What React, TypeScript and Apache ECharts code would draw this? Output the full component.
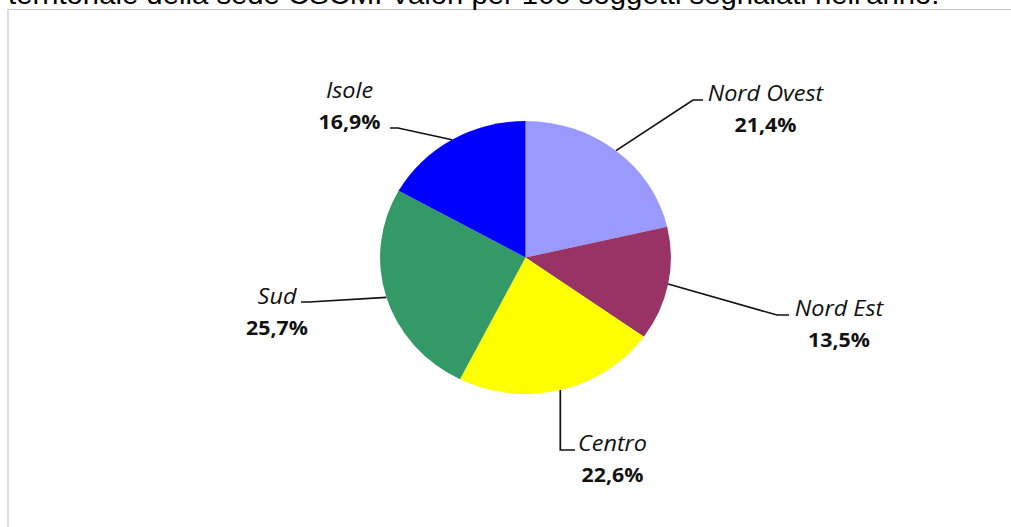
import React, { useEffect, useRef } from "react";
import * as echarts from "echarts";

// ---- data ----
const categories = ["Nord Ovest", "Nord Est", "Centro", "Sud", "Isole"];
const values = [21.4, 13.5, 22.6, 25.7, 16.9];
const colors = ["#9999FF", "#993366", "#FFFF00", "#339966", "#0000FF"];
const titleText = "territoriale della sede CSCMI Valori per 100 soggetti segnalati nell'anno.";

// ---- layout (not data) ----
const STRETCH = 1011 / 949; // the reference is horizontally stretched
const W = 949;
const H = 527;
const sx = (x: number) => x / STRETCH;
// label centre x, top y, and leader line elbow/end (reference coordinates)
const labelLayouts = [
  { cx: 765.5, top: 77.5, elbow: [693, 100], end: [703, 100] },
  { cx: 839, top: 292.5, elbow: [777, 315], end: [789, 315] },
  { cx: 612.5, top: 427.5, elbow: [null, 450], end: [575, 450] },
  { cx: 277, top: 280.5, elbow: [309, 302], end: [301, 302] },
  { cx: 349.5, top: 74.5, elbow: [398, 128], end: [390, 128] },
];

const fmt = (v: number) => v.toFixed(1).replace(".", ",") + "%";

export default function App() {
  const ref = useRef<HTMLDivElement>(null);
  useEffect(() => {
    if (!ref.current) return;
    const chart = echarts.init(ref.current, null, { renderer: "svg" });
    chart.setOption({
      animation: false,
      backgroundColor: "#ffffff",
      graphic: [
        {
          type: "rect",
          silent: true,
          shape: { x: sx(8), y: 9.5, width: 1000, height: 700 },
          style: { fill: "none", stroke: "#c4c4c4", lineWidth: 1 },
        },
        {
          type: "text",
          silent: true,
          x: sx(8),
          y: -6,
          style: {
            text: titleText,
            font: "27.5px 'Liberation Sans', Arial, sans-serif",
            fill: "#000000",
            verticalAlign: "middle",
          },
        },
      ],
      series: [
        {
          type: "pie",
          center: [sx(525.5), 257.5],
          radius: 136.5,
          startAngle: 90,
          clockwise: true,
          avoidLabelOverlap: false,
          itemStyle: { borderWidth: 0 },
          emphasis: { disabled: true },
          data: categories.map((name, i) => ({
            name,
            value: values[i],
            itemStyle: { color: colors[i] },
          })),
          label: {
            show: true,
            position: "outside",
            formatter: (p: any) => `{n|${p.name}}\n{v|${fmt(p.value)}}`,
            rich: {
              n: {
                fontFamily: "'Open Sans', sans-serif",
                fontStyle: "italic",
                fontSize: 22,
                color: "#111111",
                lineHeight: 31,
                align: "center",
              },
              v: {
                fontFamily: "'Open Sans', sans-serif",
                fontWeight: "bold",
                fontSize: 20,
                color: "#111111",
                lineHeight: 31,
                align: "center",
              },
            },
          },
          labelLine: {
            show: true,
            length: 10,
            length2: 10,
            lineStyle: { color: "#111111", width: 1.6 },
          },
          labelLayout: (params: any) => {
            const l = labelLayouts[params.dataIndex];
            const start = params.labelLinePoints ? params.labelLinePoints[0] : [0, 0];
            const elbowX = l.elbow[0] == null ? start[0] : sx(l.elbow[0] as number);
            return {
              x: sx(l.cx),
              y: l.top,
              align: "center",
              verticalAlign: "top",
              labelLinePoints: [
                start,
                [elbowX, l.elbow[1]],
                [sx(l.end[0]), l.end[1]],
              ],
            };
          },
        },
      ],
    });
    return () => chart.dispose();
  }, []);
  return (
    <div
      ref={ref}
      style={{
        position: "absolute",
        left: 0,
        top: 0,
        width: W,
        height: H,
        transform: `scaleX(${STRETCH})`,
        transformOrigin: "0 0",
      }}
    />
  );
}
